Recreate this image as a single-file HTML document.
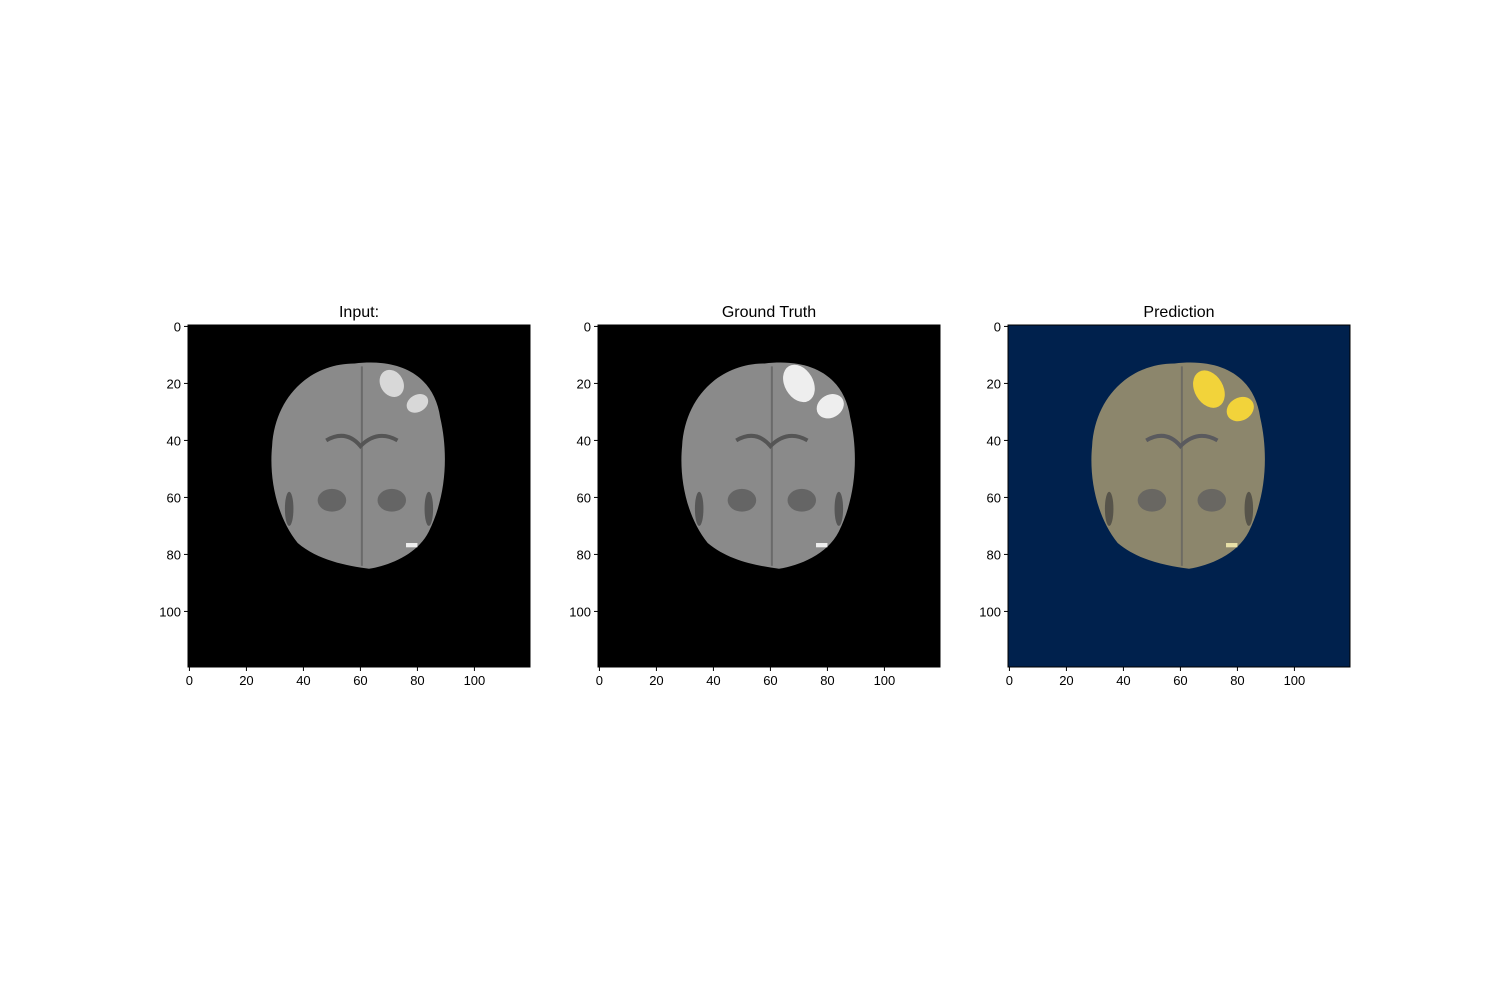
<!DOCTYPE html>
<html><head><meta charset="utf-8"><style>
body{margin:0;background:#fff;}
svg{display:block;font-family:"Liberation Sans","DejaVu Sans",sans-serif;}
</style></head><body>
<svg id="fig" width="1500" height="985"></svg>
<script>
const NS="http://www.w3.org/2000/svg";
const titles=["Input:","Ground Truth","Prediction"];
const xTicks=[0,20,40,60,80,100];
const yTicks=[0,20,40,60,80,100];
const lesionInput=[[71,20,4,5],[80,27,4,3]];
const lesionTruth=[[70,20,5,7],[81,28,5,4]];
const lesionPred=[[70,22,5,7],[81,29,5,4]];
const panelX=[188,598,1008];
const top0=325, size=342, N=120, sc=size/N;
const svg=document.getElementById('fig');
function mk(t,a,p){const e=document.createElementNS(NS,t);for(const k in a)e.setAttribute(k,a[k]);(p||svg).appendChild(e);return e;}
const brainPath=(x,y)=>{const P=(dx,dy)=>(x(dx)).toFixed(1)+","+(y(dy)).toFixed(1);
return "M"+P(58,13)+" C"+P(75,11)+" "+P(86,18)+" "+P(88,32)+" C"+P(91,45)+" "+P(90,60)+" "+P(84,72)+" C"+P(80,80)+" "+P(70,84)+" "+P(63,85)+" C"+P(55,84)+" "+P(45,82)+" "+P(38,76)+" C"+P(30,66)+" "+P(28,52)+" "+P(29,42)+" C"+P(30,25)+" "+P(42,13)+" "+P(58,13)+" Z";};
for(let i=0;i<3;i++){
  const X0=panelX[i];
  const g=mk('g',{});
  
  
  const x=v=>X0+(v+0.5)*sc, y=v=>top0+(v+0.5)*sc;
  const pred=i===2;
  const bg=mk('rect',{x:X0,y:top0,width:size,height:size,fill:pred?'#00214d':'#000'},g);
  
  
  const b=mk('path',{d:brainPath(x,y),fill:pred?'#8c866c':'#8a8a8a'},g);
  
  
  const dark=pred?'#5a5a5e':'#555';
  // ventricles / dark structures
  mk('path',{d:`M${x(48)},${y(40)} Q${x(55)},${y(36)} ${x(60)},${y(42)} Q${x(66)},${y(36)} ${x(73)},${y(40)}`,stroke:dark,'stroke-width':4,fill:'none'},g);
  mk('ellipse',{cx:x(50),cy:y(61),rx:sc*5,ry:sc*4,fill:dark,opacity:0.7},g);
  mk('ellipse',{cx:x(71),cy:y(61),rx:sc*5,ry:sc*4,fill:dark,opacity:0.7},g);
  mk('line',{x1:x(60.5),y1:y(14),x2:x(60.5),y2:y(84),stroke:dark,'stroke-width':2,opacity:0.6},g);
  mk('ellipse',{cx:x(35),cy:y(64),rx:sc*1.5,ry:sc*6,fill:'#333',opacity:0.6},g);
  mk('ellipse',{cx:x(84),cy:y(64),rx:sc*1.5,ry:sc*6,fill:'#333',opacity:0.6},g);
  mk('rect',{x:x(76),y:y(76),width:sc*4,height:sc*1.5,fill:pred?'#e8e0a8':'#eee'},g);
  const les=i===0?lesionInput:i===1?lesionTruth:lesionPred;
  les.forEach((l,j)=>{const e=mk('ellipse',{cx:x(l[0]),cy:y(l[1]),rx:l[2]*sc,ry:l[3]*sc,fill:pred?'#f2d33a':(i===0?'#d8d8d8':'#eeeeee'),transform:`rotate(-30 ${x(l[0])} ${y(l[1])})`},g);
    
    });
  const fr=mk('rect',{x:X0,y:top0,width:size,height:size,fill:'none',stroke:'#000','stroke-width':1},g);
  
  
  const t=mk('text',{x:X0+size/2,y:317,'text-anchor':'middle','font-size':16},g);t.textContent=titles[i];
  
  
  xTicks.forEach(v=>{const px=x(v);mk('line',{x1:px,y1:top0+size,x2:px,y2:top0+size+4,stroke:'#000'},g);
    const tt=mk('text',{x:px,y:top0+size+18,'text-anchor':'middle','font-size':13},g);tt.textContent=v;
    
    });
  yTicks.forEach(v=>{const py=y(v);mk('line',{x1:X0,y1:py,x2:X0-4,y2:py,stroke:'#000'},g);
    const tt=mk('text',{x:X0-7,y:py+5,'text-anchor':'end','font-size':13},g);tt.textContent=v;
    
    });
}
</script>
</body></html>
